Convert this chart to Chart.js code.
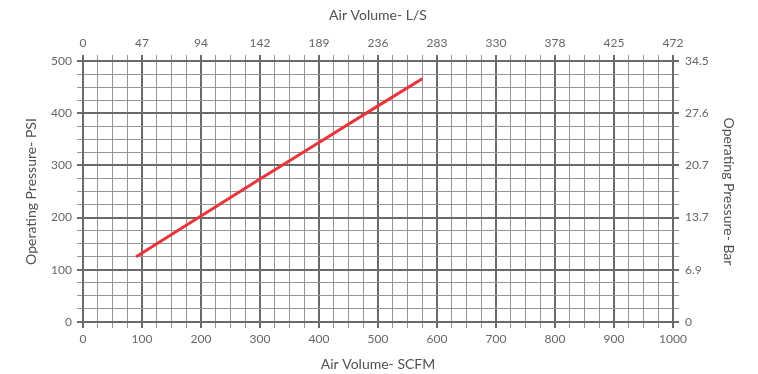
<!DOCTYPE html>
<html>
<head>
<meta charset="utf-8">
<script src="https://cdn.jsdelivr.net/npm/chart.js@4"></script>
<style>
  html, body { margin: 0; padding: 0; background: #ffffff; }
  #wrap { width: 758px; height: 374px; }
</style>
</head>
<body>
<div id="wrap"><canvas id="c" width="758" height="374"></canvas></div>
<script>
// ---- data ----
const airScfm = [90, 200, 300, 400, 500, 575];
const pressurePsi = [125, 203, 274, 344, 414, 466];

// ---- tick labels ----
const bottomLabels = ['0','100','200','300','400','500','600','700','800','900','1000'];
const topLabels = ['0','47','94','142','189','236','283','330','378','425','472'];
const leftLabels = ['0','100','200','300','400','500'];
const rightLabels = ['0','6.9','13.7','20.7','27.6','34.5'];

const MAJOR = '#6a6a6a', MINOR = '#959595', TXT = '#666666', TITLE = '#505050';
const FONT = 'Lato, "Open Sans", sans-serif';

const isMajor = (ctx) => ctx.tick && Math.round(ctx.tick.value) % 100 === 0;
const gridColor = (ctx) => isMajor(ctx) ? MAJOR : MINOR;
const gridWidth = (ctx) => isMajor(ctx) ? 2 : 1;

const points = airScfm.map((x, i) => ({ x: x, y: pressurePsi[i] }));

new Chart(document.getElementById('c'), {
  type: 'scatter',
  data: {
    datasets: [{
      data: points,
      showLine: true,
      borderColor: '#e8343a',
      backgroundColor: '#e8343a',
      borderWidth: 3,
      pointRadius: 0,
      tension: 0,
      xAxisID: 'x',
      yAxisID: 'y'
    }]
  },
  options: {
    responsive: false,
    animation: false,
    events: [],
    layout: { padding: 0 },
    plugins: { legend: { display: false }, tooltip: { enabled: false } },
    scales: {
      x: {
        type: 'linear', position: 'bottom', min: 0, max: 1000,
        afterFit: (s) => { s.height = 52; },
        ticks: {
          stepSize: 25, autoSkip: false, maxRotation: 0, padding: 4,
          color: TXT, font: { family: FONT, size: 12 },
          callback: (v) => (v % 100 === 0 ? bottomLabels[v / 100] : '')
        },
        grid: { color: gridColor, lineWidth: gridWidth, tickColor: gridColor, tickWidth: gridWidth, tickLength: 6 },
        border: { display: true, color: MAJOR, width: 2 },
        title: { display: true, text: 'Air Volume- SCFM', color: TITLE, font: { family: FONT, size: 14 }, padding: { top: 0, bottom: 1 } }
      },
      x2: {
        type: 'linear', position: 'top', min: 0, max: 1000,
        afterFit: (s) => { s.height = 61; },
        ticks: {
          stepSize: 25, autoSkip: false, maxRotation: 0, padding: 5,
          color: TXT, font: { family: FONT, size: 12 },
          callback: (v) => (v % 100 === 0 ? topLabels[v / 100] : '')
        },
        grid: { drawOnChartArea: false, color: gridColor, lineWidth: gridWidth, tickColor: gridColor, tickWidth: gridWidth, tickLength: 6 },
        border: { display: true, color: MAJOR, width: 2 },
        title: { display: true, text: 'Air Volume- L/S', color: TITLE, font: { family: FONT, size: 14 }, padding: { top: 7, bottom: 0 } }
      },
      y: {
        type: 'linear', position: 'left', min: 0, max: 500,
        afterFit: (s) => { s.width = 83; },
        ticks: {
          stepSize: 25, autoSkip: false, padding: 5,
          color: TXT, font: { family: FONT, size: 12 },
          callback: (v) => (v % 100 === 0 ? leftLabels[v / 100] : '')
        },
        grid: { color: gridColor, lineWidth: gridWidth, tickColor: gridColor, tickWidth: gridWidth, tickLength: 6 },
        border: { display: true, color: MAJOR, width: 2 },
        title: { display: true, text: 'Operating Pressure- PSI', color: TITLE, font: { family: FONT, size: 14 }, padding: { top: 23, bottom: 0 } }
      },
      y2: {
        type: 'linear', position: 'right', min: 0, max: 500,
        afterFit: (s) => { s.width = 85; },
        ticks: {
          stepSize: 25, autoSkip: false, padding: 6,
          color: TXT, font: { family: FONT, size: 12 },
          callback: (v) => (v % 100 === 0 ? rightLabels[v / 100] : '')
        },
        grid: { drawOnChartArea: false, color: gridColor, lineWidth: gridWidth, tickColor: gridColor, tickWidth: gridWidth, tickLength: 6 },
        border: { display: true, color: MAJOR, width: 2 },
        title: { display: true, text: 'Operating Pressure- Bar', color: TITLE, font: { family: FONT, size: 14 }, padding: { top: 21, bottom: 0 } }
      }
    }
  }
});
</script>
</body>
</html>
